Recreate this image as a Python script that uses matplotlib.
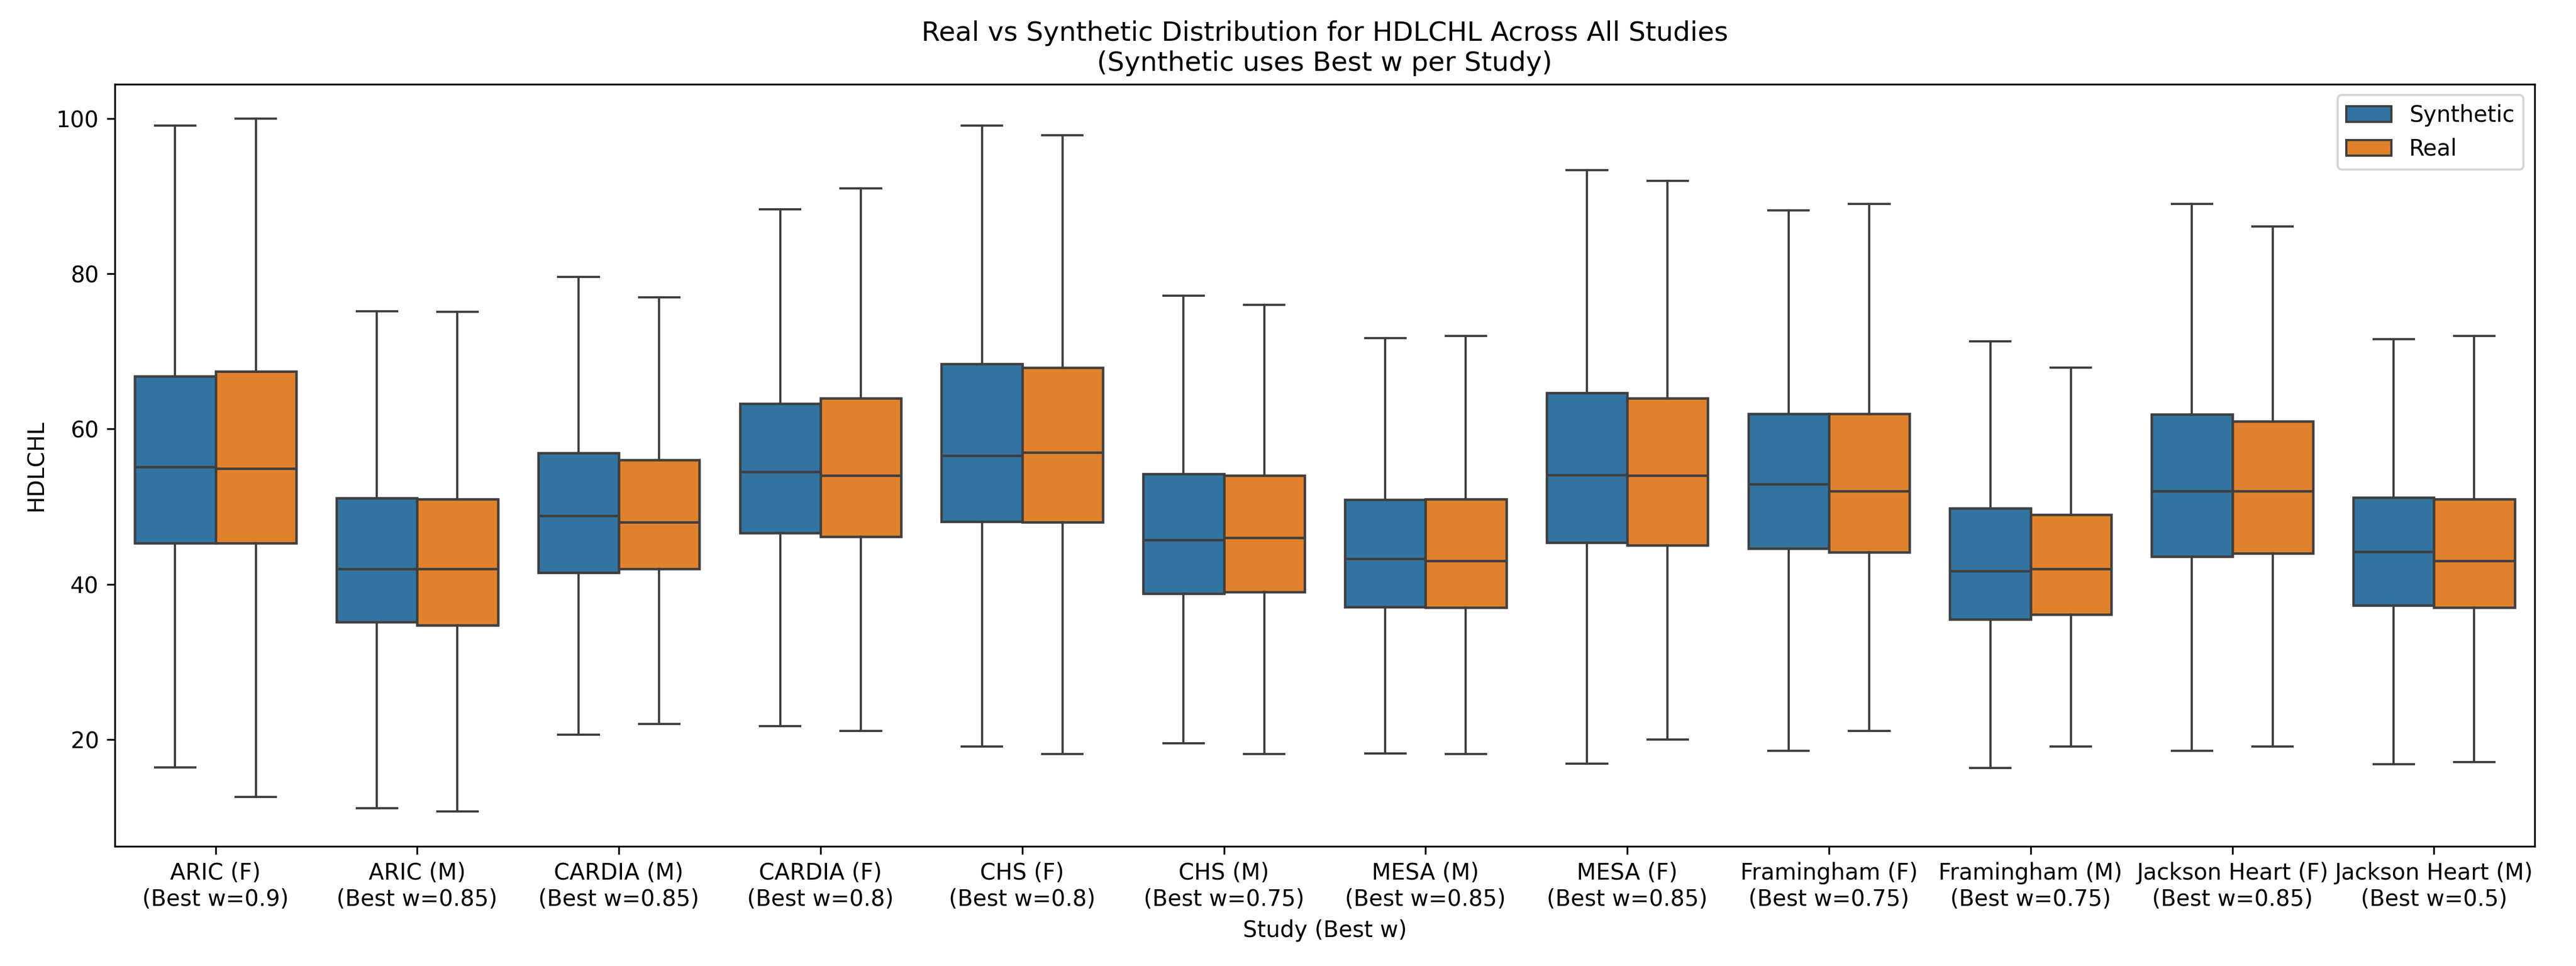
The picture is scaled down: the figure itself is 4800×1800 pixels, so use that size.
import matplotlib
matplotlib.use("Agg")
import matplotlib.pyplot as plt
from matplotlib.patches import Patch

studies = ["ARIC (F)", "ARIC (M)", "CARDIA (M)", "CARDIA (F)", "CHS (F)", "CHS (M)",
           "MESA (M)", "MESA (F)", "Framingham (F)", "Framingham (M)",
           "Jackson Heart (F)", "Jackson Heart (M)"]
best_w = ["0.9", "0.85", "0.85", "0.8", "0.8", "0.75", "0.85", "0.85", "0.75", "0.75", "0.85", "0.5"]

# box stats
syn_lo = [16.4, 11.1, 20.6, 21.7, 19.1, 19.5, 18.2, 16.9, 18.5, 16.3, 18.5, 16.8]
syn_q1 = [45.3, 35.1, 41.5, 46.6, 48.1, 38.8, 37.1, 45.4, 44.6, 35.5, 43.6, 37.3]
syn_med = [55.1, 42.0, 48.8, 54.5, 56.6, 45.7, 43.3, 54.1, 52.9, 41.7, 52.0, 44.2]
syn_q3 = [66.8, 51.1, 56.9, 63.3, 68.4, 54.2, 50.9, 64.7, 62.0, 49.8, 61.9, 51.2]
syn_hi = [99.1, 75.2, 79.6, 88.3, 99.1, 77.2, 71.7, 93.4, 88.2, 71.3, 89.0, 71.6]

real_lo = [12.6, 10.7, 22.0, 21.1, 18.1, 18.1, 18.1, 20.0, 21.1, 19.1, 19.1, 17.1]
real_q1 = [45.3, 34.7, 42.0, 46.1, 48.0, 39.0, 37.0, 45.0, 44.1, 36.1, 44.0, 37.0]
real_med = [54.9, 42.0, 48.0, 54.0, 57.0, 46.0, 43.0, 54.0, 52.0, 42.0, 52.0, 43.0]
real_q3 = [67.4, 51.0, 56.0, 64.0, 67.9, 54.0, 51.0, 64.0, 62.0, 49.0, 61.0, 51.0]
real_hi = [100.0, 75.1, 77.0, 91.0, 97.9, 76.0, 72.0, 92.0, 89.0, 67.9, 86.1, 72.0]

syn_color = "#3274a1"
real_color = "#e1812c"
edge = "#3f3f3f"


def make_stats(lo, q1, med, q3, hi):
    out = []
    for a, b, c, d, e in zip(lo, q1, med, q3, hi):
        out.append({"whislo": a, "q1": b, "med": c, "q3": d, "whishi": e, "fliers": []})
    return out


fig, ax = plt.subplots(figsize=(16, 6), dpi=300)

x = list(range(len(studies)))
for stats, off, col in [(make_stats(syn_lo, syn_q1, syn_med, syn_q3, syn_hi), -0.2, syn_color),
                        (make_stats(real_lo, real_q1, real_med, real_q3, real_hi), 0.2, real_color)]:
    ax.bxp(stats, positions=[i + off for i in x], widths=0.4, capwidths=0.2,
           patch_artist=True, showfliers=False,
           boxprops=dict(facecolor=col, edgecolor=edge, linewidth=1.1),
           medianprops=dict(color=edge, linewidth=1.1),
           whiskerprops=dict(color=edge, linewidth=1.0),
           capprops=dict(color=edge, linewidth=1.0))

ax.set_xlim(-0.5, len(studies) - 0.5)
ax.set_xticks(x)
ax.set_xticklabels([f"{s}\n(Best w={w})" for s, w in zip(studies, best_w)])
ax.set_xlabel("Study (Best w)")
ax.set_ylabel("HDLCHL")
ax.set_title("Real vs Synthetic Distribution for HDLCHL Across All Studies\n(Synthetic uses Best w per Study)")

handles = [Patch(facecolor=syn_color, edgecolor=edge, label="Synthetic"),
           Patch(facecolor=real_color, edgecolor=edge, label="Real")]
ax.legend(handles=handles, loc="upper right")

plt.subplots_adjust(left=0.0445, right=0.984, top=0.913, bottom=0.124)
plt.savefig("out.png")
